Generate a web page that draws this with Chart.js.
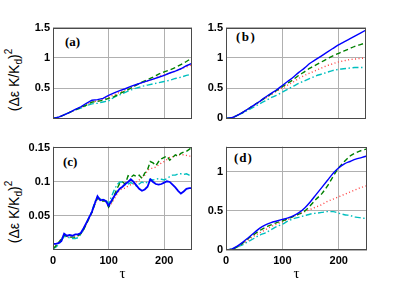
<!DOCTYPE html>
<html>
<head>
<meta charset="utf-8">
<script src="https://cdn.jsdelivr.net/npm/chart.js@4.4.1/dist/chart.umd.min.js"></script>
<style>
html,body{margin:0;padding:0;background:#fff;width:415px;height:282px;overflow:hidden;}
.pane{position:absolute;}
.yl{position:absolute;width:100px;height:16px;line-height:16px;text-align:center;transform:rotate(-90deg);font-family:"Liberation Sans",Arial,sans-serif;font-size:14px;color:#000;white-space:nowrap;}
.yl sub{font-size:10px;vertical-align:-3px;line-height:0;}
.yl sup{font-size:10px;vertical-align:7px;line-height:0;}
.tag{position:absolute;font-family:"Liberation Serif","Times New Roman",serif;font-weight:bold;font-size:13px;line-height:13px;color:#000;white-space:nowrap;}
</style>
</head>
<body>
<div class="yl" style="left:-36px;top:72px;">(Δε K/K<sub>d</sub>)<sup>2</sup></div>
<div class="yl" style="left:-36px;top:204px;">(Δε K/K<sub>d</sub>)<sup>2</sup></div>
<div class="tag" style="left:65px;top:35px;">(a)</div>
<div class="tag" style="left:236px;top:30px;letter-spacing:1.5px;">(b)</div>
<div class="tag" style="left:63px;top:155px;">(c)</div>
<div class="tag" style="left:234px;top:151px;letter-spacing:1px;">(d)</div>
<div class="pane" id="pa"><canvas id="ca"></canvas></div>
<div class="pane" id="pb"><canvas id="cb"></canvas></div>
<div class="pane" id="pc"><canvas id="cc"></canvas></div>
<div class="pane" id="pd"><canvas id="cd"></canvas></div>
<script>
// ---- data ----
const tau10 = [0,10,20,30,40,50,60,70,80,90,100,110,120,130,140,150,160,170,180,190,200,210,220,230,240,250];
const tau5 = [0,5,10,15,20,25,30,35,40,45,50,55,60,65,70,75,80,85,90,95,100,105,110,115,120,125,130,135,140,145,150,155,160,165,170,175,180,185,190,195,200,205,210,215,220,225,230,235,240,245,250];

// panel (a)
const aBlue  = [0,0.02,0.06,0.10,0.15,0.19,0.25,0.30,0.31,0.33,0.38,0.42,0.46,0.49,0.53,0.56,0.59,0.62,0.65,0.68,0.71,0.75,0.78,0.82,0.87,0.91];
const aGreen = [0,0.02,0.06,0.10,0.14,0.18,0.22,0.27,0.28,0.30,0.33,0.36,0.41,0.45,0.50,0.55,0.60,0.64,0.68,0.73,0.77,0.80,0.84,0.89,0.94,1.00];
const aRed   = [0,0.02,0.06,0.10,0.14,0.18,0.22,0.27,0.29,0.32,0.35,0.39,0.43,0.47,0.51,0.55,0.59,0.62,0.65,0.69,0.72,0.75,0.78,0.82,0.85,0.89];
const aCyan  = [0,0.02,0.06,0.10,0.14,0.17,0.21,0.24,0.25,0.27,0.29,0.35,0.39,0.43,0.47,0.50,0.53,0.55,0.57,0.59,0.61,0.63,0.66,0.68,0.71,0.73];

// panel (b)
const bBlue  = [0,0.01,0.05,0.10,0.16,0.22,0.28,0.35,0.41,0.47,0.54,0.61,0.68,0.76,0.83,0.91,0.97,1.03,1.09,1.15,1.21,1.26,1.31,1.36,1.41,1.46];
const bGreen = [0,0.01,0.05,0.10,0.16,0.22,0.28,0.34,0.40,0.46,0.52,0.58,0.64,0.71,0.77,0.83,0.88,0.93,0.98,1.03,1.07,1.11,1.15,1.19,1.22,1.25];
const bRed   = [0,0.01,0.05,0.10,0.16,0.21,0.27,0.33,0.39,0.45,0.50,0.55,0.60,0.66,0.71,0.75,0.79,0.83,0.87,0.90,0.93,0.95,0.97,0.98,0.99,1.00];
const bCyan  = [0,0.01,0.05,0.09,0.14,0.19,0.24,0.29,0.34,0.38,0.43,0.48,0.53,0.58,0.62,0.66,0.70,0.73,0.76,0.79,0.81,0.82,0.83,0.84,0.84,0.84];

// panel (c)
const cBlue  = [0.009,0.009,0.010,0.013,0.024,0.021,0.022,0.021,0.023,0.023,0.025,0.032,0.040,0.048,0.056,0.068,0.079,0.073,0.074,0.072,0.065,0.072,0.079,0.085,0.090,0.093,0.097,0.100,0.104,0.100,0.095,0.090,0.087,0.089,0.093,0.104,0.100,0.097,0.096,0.097,0.099,0.101,0.100,0.096,0.092,0.087,0.083,0.086,0.090,0.091,0.091];
const cGreen = [0.002,0.006,0.011,0.016,0.022,0.020,0.019,0.019,0.019,0.021,0.024,0.030,0.038,0.047,0.055,0.067,0.076,0.074,0.072,0.072,0.063,0.070,0.080,0.090,0.098,0.100,0.097,0.109,0.107,0.110,0.108,0.110,0.105,0.113,0.118,0.130,0.128,0.124,0.130,0.134,0.136,0.138,0.132,0.136,0.140,0.138,0.142,0.144,0.145,0.148,0.151];
const cRed   = [0.002,0.006,0.011,0.016,0.022,0.020,0.019,0.019,0.019,0.021,0.024,0.030,0.038,0.047,0.055,0.067,0.076,0.074,0.072,0.072,0.063,0.068,0.075,0.082,0.088,0.090,0.091,0.094,0.096,0.097,0.100,0.103,0.107,0.110,0.117,0.120,0.120,0.122,0.125,0.128,0.130,0.133,0.136,0.137,0.138,0.140,0.140,0.140,0.139,0.138,0.138];
const cCyan  = [0.002,0.004,0.008,0.014,0.020,0.019,0.018,0.017,0.017,0.018,0.023,0.030,0.039,0.048,0.057,0.070,0.078,0.075,0.073,0.074,0.068,0.078,0.088,0.096,0.100,0.100,0.096,0.097,0.099,0.097,0.094,0.097,0.100,0.098,0.100,0.104,0.103,0.104,0.105,0.104,0.103,0.105,0.108,0.110,0.110,0.112,0.112,0.111,0.112,0.110,0.108];

// panel (d)
const dBlue  = [0,0.01,0.05,0.10,0.16,0.22,0.28,0.32,0.35,0.37,0.39,0.41,0.44,0.48,0.54,0.62,0.71,0.80,0.89,0.98,1.05,1.10,1.13,1.16,1.18,1.20];
const dGreen = [0,0.01,0.04,0.09,0.15,0.20,0.25,0.29,0.32,0.35,0.37,0.40,0.43,0.46,0.50,0.57,0.65,0.72,0.82,0.94,1.05,1.13,1.20,1.24,1.27,1.29];
const dRed   = [0,0.01,0.04,0.08,0.13,0.18,0.22,0.26,0.30,0.33,0.36,0.39,0.43,0.46,0.49,0.52,0.55,0.58,0.62,0.65,0.68,0.71,0.74,0.77,0.80,0.82];
const dCyan  = [0,0.01,0.04,0.07,0.11,0.15,0.19,0.22,0.26,0.30,0.33,0.37,0.40,0.42,0.44,0.46,0.47,0.48,0.49,0.49,0.47,0.45,0.44,0.42,0.41,0.40];

// tick labels
const xTicks = [0,100,200];
const yTicksA = [0.5,1,1.5];
const yTicksB = [0,0.5,1,1.5];
const yTicksC = [0.05,0.1,0.15];
const yTicksD = [0,0.5,1];

// ---- drawing ----
const TICKFONT = {family:'"Liberation Sans", Arial, sans-serif', size:11, weight:'bold'};
const boxPlugin = {
  id:'box',
  afterDatasetsDraw(chart){
    const a = chart.chartArea, c = chart.ctx;
    c.save();
    c.strokeStyle = '#4a4a4a';
    c.lineWidth = 1;
    c.strokeRect(Math.round(a.left)+0.5, Math.round(a.top)+0.5, Math.round(a.right-a.left)-1, Math.round(a.bottom-a.top)-1);
    c.restore();
  }
};

function series(tau, vals, color, dash, width, smooth){
  return {
    data: tau.map((t,i)=>({x:t,y:vals[i]})),
    borderColor: color, borderWidth: width, borderDash: dash,
    pointRadius: 0, fill:false,
    tension: smooth ? 0.4 : 0,
    cubicInterpolationMode: smooth ? 'monotone' : 'default'
  };
}

function makePanel(divId, canvasId, area, ymin, ymax, yTicks, bottom, sets){
  const yw = 48, pt = 4, pr = 4;
  const xh = bottom ? 33 : 1;
  const W = area.r - area.l + yw + pr;
  const H = area.b - area.t + pt + xh;
  const div = document.getElementById(divId);
  div.style.left = (area.l - yw) + 'px';
  div.style.top = (area.t - pt) + 'px';
  div.style.width = W + 'px';
  div.style.height = H + 'px';
  const cv = document.getElementById(canvasId);
  cv.width = W; cv.height = H;
  new Chart(cv, {
    type:'line',
    data:{datasets: sets},
    plugins:[boxPlugin],
    options:{
      responsive:false, animation:false, devicePixelRatio:1,
      layout:{padding:{top:pt, right:pr, left:0, bottom:0}},
      plugins:{legend:{display:false}, tooltip:{enabled:false}},
      scales:{
        x:{
          type:'linear', min:0, max:250,
          afterFit: s => { s.height = xh; },
          afterBuildTicks: s => { s.ticks = xTicks.map(v=>({value:v})); },
          grid:{color:'#b0b0b0', borderDash:[1,2], drawTicks:false, lineWidth:1},
          border:{display:false},
          ticks:{display:bottom, font:TICKFONT, color:'#000', padding:4, maxRotation:0, callback:v=>String(v)},
          title:{display:bottom, text:'τ', font:{family:'"Liberation Serif", "Times New Roman", serif', size:15}, color:'#000', padding:{top:0,bottom:0}}
        },
        y:{
          type:'linear', min:ymin, max:ymax,
          afterFit: s => { s.width = yw; },
          afterBuildTicks: s => { s.ticks = yTicks.map(v=>({value:v})); },
          grid:{color:'#b0b0b0', borderDash:[1,2], drawTicks:false, lineWidth:1},
          border:{display:false},
          ticks:{font:TICKFONT, color:'#000', padding:3, callback:v=>String(v)}
        }
      }
    }
  });
}

const BLUE='#0000ff', GREEN='#008000', RED='#ff4040', CYAN='#00bfbf';
const DASH=[5,3], DOT=[1,2.5], DASHDOT=[6,2.5,1.5,2.5];

makePanel('pa','ca',{l:53,t:22,r:192,b:127},0,1.5,yTicksA,false,[
  series(tau10,aBlue,BLUE,[],1.4,false),
  series(tau10,aGreen,GREEN,DASH,1.4,false),
  series(tau10,aRed,RED,DOT,1.4,false),
  series(tau10,aCyan,CYAN,DASHDOT,1.4,false)
]);
makePanel('pb','cb',{l:226,t:22,r:366,b:127},0,1.5,yTicksB,false,[
  series(tau10,bBlue,BLUE,[],1.4,true),
  series(tau10,bGreen,GREEN,DASH,1.4,true),
  series(tau10,bRed,RED,DOT,1.4,true),
  series(tau10,bCyan,CYAN,DASHDOT,1.4,true)
]);
makePanel('pc','cc',{l:53,t:141,r:192,b:250},0,0.152,yTicksC,true,[
  series(tau5,cBlue,BLUE,[],1.8,false),
  series(tau5,cGreen,GREEN,DASH,1.4,false),
  series(tau5,cRed,RED,DOT,1.4,false),
  series(tau5,cCyan,CYAN,DASHDOT,1.4,false)
]);
makePanel('pd','cd',{l:226,t:141,r:367,b:250},0,1.32,yTicksD,true,[
  series(tau10,dBlue,BLUE,[],1.4,true),
  series(tau10,dGreen,GREEN,DASH,1.4,true),
  series(tau10,dRed,RED,DOT,1.4,true),
  series(tau10,dCyan,CYAN,DASHDOT,1.4,true)
]);
</script>
</body>
</html>
